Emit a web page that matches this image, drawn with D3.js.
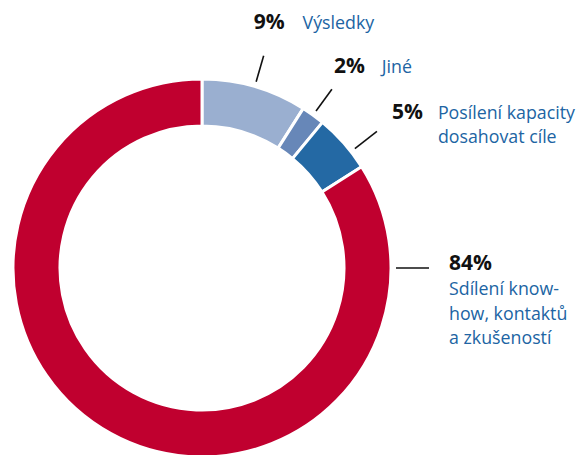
<!DOCTYPE html>
<html>
<head>
<meta charset="utf-8">
<script src="https://cdn.jsdelivr.net/npm/d3@7"></script>
<style>
  body { margin: 0; background: #fff; }
  text { font-family: "Open Sans", sans-serif; }
</style>
</head>
<body>
<div id="chart"></div>
<script>
const width = 578;
const height = 455;

// data
const categories = ["Výsledky", "Jiné", "Posílení kapacity dosahovat cíle", "Sdílení know-how, kontaktů a zkušeností"];
const values = [9, 2, 5, 84];
const labelLines = [["Výsledky"], ["Jiné"], ["Posílení kapacity", "dosahovat cíle"], ["Sdílení know-", "how, kontaktů", "a zkušeností"]];
const colors = ["#9aafd0", "#6787b8", "#2469a4", "#c0002f"];

const cx = 202, cy = 268;
const outerR = 189, innerR = 142;

const svg = d3.select("#chart")
  .append("svg")
  .attr("width", width)
  .attr("height", height);

const g = svg.append("g")
  .attr("transform", `translate(${cx},${cy})`);

const pie = d3.pie().sort(null).value(d => d.value);
const arc = d3.arc().innerRadius(innerR).outerRadius(outerR);

const data = categories.map((c, i) => ({ name: c, value: values[i], lines: labelLines[i], color: colors[i] }));
const arcs = pie(data);

// slices
g.selectAll("path")
  .data(arcs)
  .enter()
  .append("path")
  .attr("d", arc)
  .attr("fill", d => d.data.color)
  .attr("stroke", "#fff")
  .attr("stroke-width", 3);

// leader lines: small slices point from their middle, the big one goes to the right
const leader = [
  { angle: null, r1: 194, r2: 221, tx: -10, ty: -27, gap: 18, side: "right" },
  { angle: null, r1: 194, r2: 221, tx: 2, ty: -16, gap: 17, side: "right" },
  { angle: 52, r1: 194, r2: 222, tx: 15, ty: -12, gap: 15, side: "right" },
  { angle: 90, r1: 194, r2: 227, tx: 20, ty: 2, gap: 0, side: "below" }
];

arcs.forEach((d, i) => {
  const L = leader[i];
  const a = L.angle == null ? (d.startAngle + d.endAngle) / 2 : L.angle * Math.PI / 180;
  const x1 = Math.sin(a) * L.r1, y1 = -Math.cos(a) * L.r1;
  const x2 = Math.sin(a) * L.r2, y2 = -Math.cos(a) * L.r2;
  g.append("line")
    .attr("x1", x1).attr("y1", y1)
    .attr("x2", x2).attr("y2", y2)
    .attr("stroke", "#111")
    .attr("stroke-width", 1.6);

  const tx = x2 + L.tx, ty = y2 + L.ty;
  const pct = g.append("text")
    .attr("x", tx).attr("y", ty)
    .attr("font-size", 21)
    .attr("font-weight", 700)
    .attr("fill", "#111")
    .text(d.data.value + "%");

  const pw = pct.node().getComputedTextLength();
  const t = g.append("text")
    .attr("font-size", 17.8)
    .attr("fill", "#2064a3");
  if (L.side === "below") {
    d.data.lines.forEach((ln, j) => {
      t.append("tspan").attr("x", tx).attr("y", ty + 25 + j * 24.5).text(ln);
    });
  } else {
    d.data.lines.forEach((ln, j) => {
      t.append("tspan").attr("x", tx + pw + L.gap).attr("y", ty + j * 24).text(ln);
    });
  }
});
</script>
</body>
</html>
